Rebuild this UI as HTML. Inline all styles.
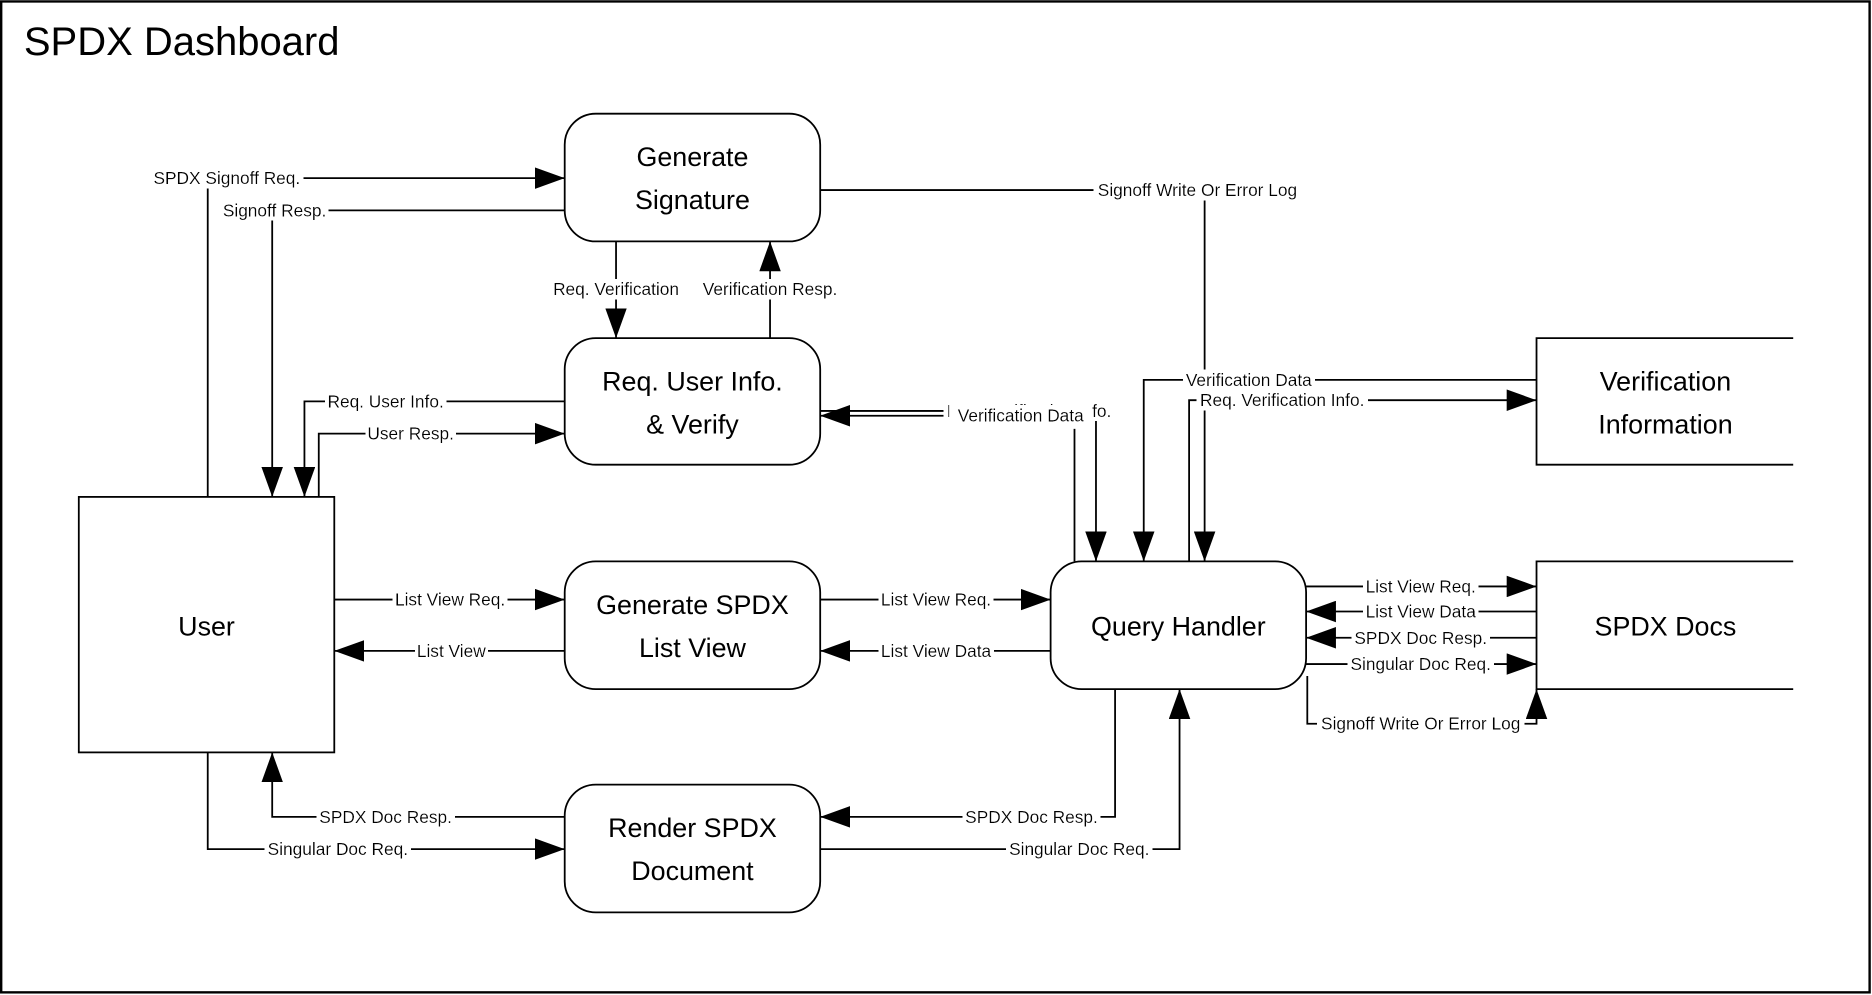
<!DOCTYPE html>
<html><head><meta charset="utf-8"><style>
html,body{margin:0;padding:0;background:#fff;}
svg{display:block;}
text{font-family:"Liberation Sans",sans-serif;fill:#000;}
.l{font-size:14.5px;text-anchor:middle;dominant-baseline:central;filter:url(#bg);}
.n{font-size:22.5px;text-anchor:middle;}
</style></head><body>
<svg width="1872" height="995" viewBox="0 0 1568 833" xmlns="http://www.w3.org/2000/svg">
<defs>
<marker id="a" markerUnits="userSpaceOnUse" markerWidth="26" markerHeight="18" refX="25" refY="9" orient="auto">
<path d="M0,0 L25,9 L0,18 z" fill="#000"/>
</marker>
<filter id="bg" x="-0.02" y="0" width="1.04" height="1">
<feFlood flood-color="#fff"/>
<feMerge><feMergeNode/><feMergeNode in="SourceGraphic"/></feMerge>
</filter>
</defs>
<rect x="1" y="1" width="1565" height="830" fill="#fff" stroke="#000" stroke-width="2"/>
<text x="20" y="46" style="font-size:33.5px">SPDX Dashboard</text>

<g fill="none" stroke="#000" stroke-width="1.5">
<polyline points="174,416 174,149 473,149" marker-end="url(#a)"/>
<polyline points="473,176 228,176 228,416" marker-end="url(#a)"/>
<polyline points="473,336 255,336 255,416" marker-end="url(#a)"/>
<polyline points="267,416 267,363 473,363" marker-end="url(#a)"/>
<polyline points="516,202 516,283" marker-end="url(#a)"/>
<polyline points="645,283 645,202" marker-end="url(#a)"/>
<polyline points="687,159 1009,159 1009,470" marker-end="url(#a)"/>
<polyline points="687,344 918,344 918,470" marker-end="url(#a)"/>
<polyline points="900,470 900,348 687,348" marker-end="url(#a)"/>
<polyline points="1287,318 958,318 958,470" marker-end="url(#a)"/>
<polyline points="996,470 996,335 1287,335" marker-end="url(#a)"/>
<polyline points="280,502 473,502" marker-end="url(#a)"/>
<polyline points="473,545 280,545" marker-end="url(#a)"/>
<polyline points="687,502 880,502" marker-end="url(#a)"/>
<polyline points="880,545 687,545" marker-end="url(#a)"/>
<polyline points="1094,491 1287,491" marker-end="url(#a)"/>
<polyline points="1287,512 1094,512" marker-end="url(#a)"/>
<polyline points="1287,534 1094,534" marker-end="url(#a)"/>
<polyline points="1094,556 1287,556" marker-end="url(#a)"/>
<polyline points="1095,566 1095,606 1287,606 1287,577" marker-end="url(#a)"/>
<polyline points="934,577 934,684 687,684" marker-end="url(#a)"/>
<polyline points="687,711 988,711 988,577" marker-end="url(#a)"/>
<polyline points="473,684 228,684 228,630" marker-end="url(#a)"/>
<polyline points="174,630 174,711 473,711" marker-end="url(#a)"/>
</g>

<g fill="#fff" stroke="#000" stroke-width="1.5">
<rect x="473" y="95" width="214" height="107" rx="26"/>
<rect x="473" y="283" width="214" height="106" rx="26"/>
<rect x="473" y="470" width="214" height="107" rx="26"/>
<rect x="473" y="657" width="214" height="107" rx="26"/>
<rect x="880" y="470" width="214" height="107" rx="26"/>
<rect x="66" y="416" width="214" height="214"/>
</g>
<g fill="none" stroke="#000" stroke-width="1.5">
<polyline points="1502,283 1287,283 1287,389 1502,389"/>
<polyline points="1502,470 1287,470 1287,577 1502,577"/>
</g>

<g class="n">
<text x="580" y="139">Generate</text><text x="580" y="175">Signature</text>
<text x="580" y="327">Req. User Info.</text><text x="580" y="363">&amp; Verify</text>
<text x="580" y="514">Generate SPDX</text><text x="580" y="550">List View</text>
<text x="580" y="701">Render SPDX</text><text x="580" y="737">Document</text>
<text x="987" y="532">Query Handler</text>
<text x="173" y="532">User</text>
<text x="1395" y="327">Verification</text><text x="1395" y="363">Information</text>
<text x="1395" y="532">SPDX Docs</text>
</g>

<g>
<text class="l" x="190" y="149">SPDX Signoff Req.</text>
<text class="l" x="230" y="176">Signoff Resp.</text>
<text class="l" x="323" y="336">Req. User Info.</text>
<text class="l" x="344" y="363">User Resp.</text>
<text class="l" x="516" y="242">Req. Verification</text>
<text class="l" x="645" y="242">Verification Resp.</text>
<text class="l" x="1003" y="159">Signoff Write Or Error Log</text>
<text class="l" x="862" y="344">Req. Verification Info.</text>
<rect x="795" y="339" width="120" height="20" fill="#fff"/>
<text class="l" x="855" y="348">Verification Data</text>
<text class="l" x="1046" y="318">Verification Data</text>
<text class="l" x="1074" y="335">Req. Verification Info.</text>
<text class="l" x="377" y="502">List View Req.</text>
<text class="l" x="378" y="545">List View</text>
<text class="l" x="784" y="502">List View Req.</text>
<text class="l" x="784" y="545">List View Data</text>
<text class="l" x="1190" y="491">List View Req.</text>
<text class="l" x="1190" y="512">List View Data</text>
<text class="l" x="1190" y="534">SPDX Doc Resp.</text>
<text class="l" x="1190" y="556">Singular Doc Req.</text>
<text class="l" x="1190" y="606">Signoff Write Or Error Log</text>
<text class="l" x="864" y="684">SPDX Doc Resp.</text>
<text class="l" x="904" y="711">Singular Doc Req.</text>
<text class="l" x="323" y="684">SPDX Doc Resp.</text>
<text class="l" x="283" y="711">Singular Doc Req.</text>
</g>
</svg>
</body></html>
